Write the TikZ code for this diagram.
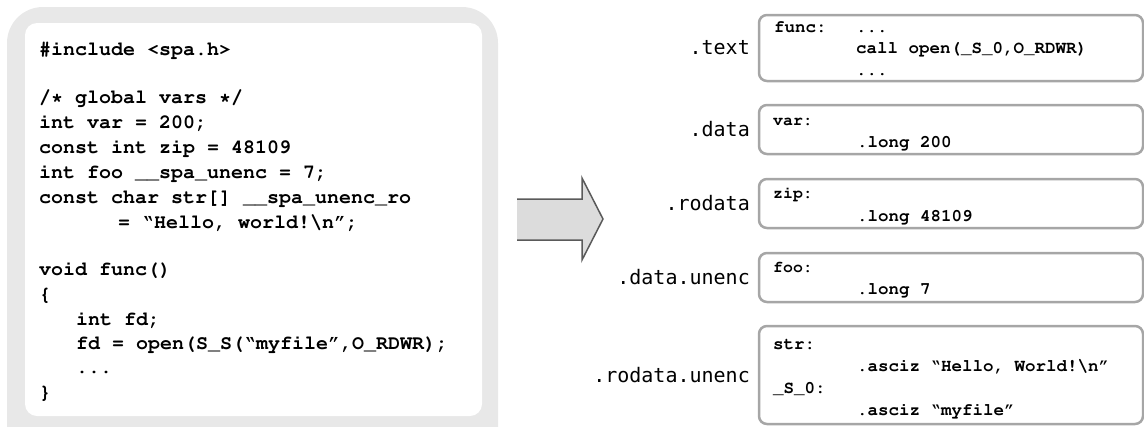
\documentclass[tikz,border=0pt]{standalone}
\usepackage{fontspec}
\setmonofont{Liberation Mono}
\newfontfamily\labfont{DejaVu Sans Mono}
\newcommand\courbold{\fontencoding{T1}\fontfamily{pcr}\fontseries{b}\fontshape{n}\selectfont}
\newcommand\oqq{\textquotedblleft}
\newcommand\cqq{\textquotedblright}
\definecolor{panelgray}{HTML}{E8E8E8}
\definecolor{boxgray}{HTML}{A6A6A6}
\definecolor{arrowfill}{HTML}{DCDCDC}
\definecolor{arrowline}{HTML}{5A5A5A}
\tikzset{
  code/.style={anchor=base west, inner sep=0pt, font=\courbold\fontsize{20}{24}\selectfont},
  asm/.style={anchor=base west, inner sep=0pt, font=\courbold\fontsize{17.5}{21}\selectfont},
  asmlab/.style={anchor=base west, inner sep=0pt, font=\courbold\fontsize{16.5}{20}\selectfont},
  sec/.style={anchor=base east, inner sep=0pt, font=\labfont\fontsize{20}{24}\selectfont},
  segbox/.style={draw=boxgray, line width=2.5pt, rounded corners=8pt, fill=white},
}
\begin{document}
\begin{tikzpicture}[x=1pt,y=-1pt]
\useasboundingbox (0,0) rectangle (1144,426);
\clip (0,0) rectangle (1144,426);
% left panel
\fill[panelgray, rounded corners=36pt] (7,7) rectangle (498,470);
\fill[white, rounded corners=12pt] (25,23) rectangle (482,416);
\node[code] (l1) at (39,55) {\#include <spa.h>};
\node[code] (l2) at (39,103) {/* global vars */};
\node[code] (l3) at (39,128) {int var = 200;};
\node[code] (l4) at (39,153) {const int zip = 48109};
\node[code] (l5) at (39,178) {int foo \_\_spa\_unenc = 7;};
\node[code] (l6) at (39,203) {const char str[] \_\_spa\_unenc\_ro};
\node[code] (l7) at (118,228) {= \oqq Hello, world!\textbackslash n\cqq;};
\node[code] (l8) at (39,275) {void func()};
\node[code] (l9) at (39,300) {\{};
\node[code] (l10) at (76,325) {int fd;};
\node[code] (l11) at (76,349) {fd = open(S\_S(\oqq myfile\cqq,O\_RDWR);};
\node[code] (l12) at (76,373) {...};
\node[code] (l13) at (39,398) {\}};
% arrow
\fill[arrowfill] (517,199) -- (582,199) -- (582,178) -- (603,219) -- (582,260) -- (582,240) -- (517,240) -- cycle;
\draw[arrowline, line width=1.5pt, line join=miter] (517,199) -- (582,199) -- (582,178) -- (603,219) -- (582,260) -- (582,240) -- (517,240);
% segment boxes
\draw[segbox] (759,15) rectangle (1143,81);
\draw[segbox] (759,105) rectangle (1143,154);
\draw[segbox] (759,179) rectangle (1143,228);
\draw[segbox] (759,253) rectangle (1143,302);
\draw[segbox] (759,326) rectangle (1143,424);
% section labels
\node[sec] (s1) at (750,54) {.text};
\node[sec] (s2) at (750,136) {.data};
\node[sec] (s3) at (750,210) {.rodata};
\node[sec] (s4) at (750,284) {.data.unenc};
\node[sec] (s5) at (750,382) {.rodata.unenc};
% box contents
\node[asm] (t1) at (774,32) {func:};
\node[asm] (t2) at (856,32) {...};
\node[asm] (t3) at (856,53) {call open(\_S\_0,O\_RDWR)};
\node[asm] (t4) at (856,75) {...};
\node[asmlab] (d1) at (773,125) {var:};
\node[asm] (d2) at (857,147) {.long 200};
\node[asmlab] (r1) at (773,198) {zip:};
\node[asm] (r2) at (857,221) {.long 48109};
\node[asmlab] (u1) at (773,272) {foo:};
\node[asm] (u2) at (857,294) {.long 7};
\node[asm] (v1) at (773,349) {str:};
\node[asm] (v2) at (857,371) {.asciz \oqq Hello, World!\textbackslash n\cqq};
\node[asm] (v3) at (773,393) {\_S\_0:};
\node[asm] (v4) at (857,415) {.asciz \oqq myfile\cqq};
\end{tikzpicture}
\end{document}
